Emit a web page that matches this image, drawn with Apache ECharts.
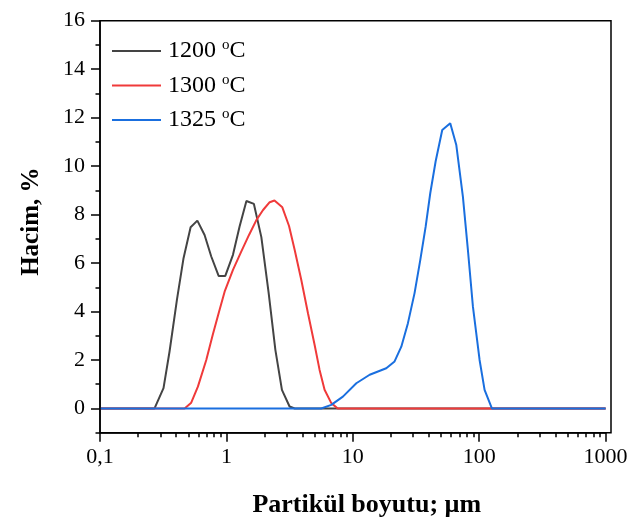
<!DOCTYPE html>
<html>
<head>
<meta charset="utf-8">
<script src="https://cdn.jsdelivr.net/npm/echarts@6/dist/echarts.min.js"></script>
<style>
html,body{margin:0;padding:0;background:#fff;}
#chart{width:635px;height:524px;}
</style>
</head>
<body>
<div id="chart"></div>
<script>
// ---- data ----
var seriesNames = ['1200', '1300', '1325'];

var x1200 = [0.1, 0.27, 0.318, 0.355, 0.406, 0.458, 0.521, 0.589, 0.672, 0.759, 0.868, 0.98, 1.127, 1.27, 1.44, 1.65, 1.89, 2.16, 2.44, 2.75, 3.16, 3.47, 1000];
var y1200 = [0, 0, 0.84, 2.35, 4.48, 6.2, 7.48, 7.75, 7.16, 6.27, 5.47, 5.47, 6.34, 7.5, 8.56, 8.44, 7.07, 4.76, 2.42, 0.77, 0.08, 0, 0];

var x1300 = [0.1, 0.467, 0.527, 0.595, 0.693, 0.78, 0.868, 0.968, 1.127, 1.31, 1.51, 1.73, 1.95, 2.2, 2.4, 2.77, 3.13, 3.47, 3.91, 4.42, 4.99, 5.46, 5.98, 6.76, 7.6, 1000];
var y1300 = [0, 0, 0.24, 0.9, 2.0, 3.04, 3.93, 4.82, 5.72, 6.47, 7.16, 7.78, 8.19, 8.51, 8.58, 8.3, 7.53, 6.54, 5.31, 3.93, 2.62, 1.59, 0.77, 0.22, 0, 0];

var x1325 = [0.1, 5.63, 6.76, 8.35, 10.66, 13.6, 18.4, 21.4, 24.2, 27.3, 30.8, 34.2, 37.7, 41.0, 45.2, 51.0, 59.0, 65.9, 74.3, 81.4, 89.2, 100.7, 110.3, 126, 1000];
var y1325 = [0, 0, 0.15, 0.49, 1.04, 1.39, 1.66, 1.94, 2.55, 3.52, 4.76, 6.13, 7.5, 8.88, 10.19, 11.49, 11.77, 10.87, 8.74, 6.54, 4.2, 2.0, 0.77, 0, 0];

var xMajorTicks = [0.1, 1, 10, 100, 1000];
var xTickLabels = ['0,1', '1', '10', '100', '1000'];
var xMinorTicks = [0.2,0.3,0.4,0.5,0.6,0.7,0.8,0.9, 2,3,4,5,6,7,8,9, 20,30,40,50,60,70,80,90, 200,300,400,500,600,700,800,900];
var yMajorTicks = [0, 2, 4, 6, 8, 10, 12, 14, 16];
var yMinorTicks = [-1, 1, 3, 5, 7, 9, 11, 13, 15];

// ---- build ----
function pairs(xs, ys) { return xs.map(function (x, i) { return [x, ys[i]]; }); }
var colors = ['#444444', '#f03a3a', '#1a6fdf'];
var dataSets = [pairs(x1200, y1200), pairs(x1300, y1300), pairs(x1325, y1325)];

var FONT = 'Liberation Serif';
var chart = echarts.init(document.getElementById('chart'), null, { renderer: 'canvas' });

var series = seriesNames.map(function (n, i) {
  return {
    name: n,
    type: 'line',
    data: dataSets[i],
    symbol: 'none',
    smooth: false,
    lineStyle: { color: colors[i], width: 2 },
    itemStyle: { color: colors[i] },
    z: 2 + i
  };
});

var GL = 100, GT = 20.7, GW = 505.6, GH = 412;

chart.setOption({
  animation: false,
  backgroundColor: '#ffffff',
  grid: { left: GL, top: GT, width: GW, height: GH, containLabel: false },
  legend: {
    orient: 'vertical',
    left: 112,
    top: 38,
    padding: 0,
    icon: 'rect',
    itemWidth: 49,
    itemHeight: 2.2,
    itemGap: 9.5,
    data: seriesNames,
    formatter: function (name) { return '{a|' + name + ' }{s|o}{a|C}'; },
    textStyle: {
      fontFamily: FONT,
      color: '#000',
      padding: [0, 0, 0, 2],
      rich: {
        a: { fontFamily: FONT, fontSize: 24, color: '#000' },
        s: { fontFamily: FONT, fontSize: 15, color: '#000', padding: [0, 0, 11, 0] }
      }
    }
  },
  xAxis: [
    {
      type: 'log',
      logBase: 10,
      min: 0.1,
      max: 1000,
      position: 'bottom',
      name: 'Partikül boyutu; µm',
      nameLocation: 'middle',
      nameGap: 60,
      nameTextStyle: { fontFamily: FONT, fontSize: 26, fontWeight: 'bold', color: '#000', padding: [0, 0, 0, 28] },
      axisLine: { show: true, onZero: false, lineStyle: { color: '#000', width: 1.5 } },
      axisTick: { show: true, inside: false, length: 9, lineStyle: { color: '#000', width: 1.5 }, customValues: xMajorTicks },
      axisLabel: {
        show: true, margin: 14, fontFamily: FONT, fontSize: 22, color: '#000',
        customValues: xMajorTicks,
        formatter: function (v) {
          var r = Number(Number(v).toPrecision(3));
          var idx = xMajorTicks.indexOf(r);
          return idx >= 0 ? xTickLabels[idx] : '';
        }
      },
      splitLine: { show: false },
      minorTick: { show: false }
    },
    {
      type: 'log',
      logBase: 10,
      min: 0.1,
      max: 1000,
      position: 'bottom',
      offset: 0,
      axisLine: { show: false, onZero: false },
      axisTick: { show: true, inside: false, length: 4.5, lineStyle: { color: '#000', width: 1.5 }, customValues: xMinorTicks },
      axisLabel: { show: false },
      splitLine: { show: false }
    }
  ],
  yAxis: [
    {
      type: 'value',
      min: -1,
      max: 16,
      position: 'left',
      name: 'Hacim, %',
      nameLocation: 'middle',
      nameGap: 56,
      nameRotate: 90,
      nameTextStyle: { fontFamily: FONT, fontSize: 25, fontWeight: 'bold', color: '#000', padding: [0, 0, 0, 10] },
      axisLine: { show: true, onZero: false, lineStyle: { color: '#000', width: 1.5 } },
      axisTick: { show: true, inside: false, length: 9, lineStyle: { color: '#000', width: 1.5 }, customValues: yMajorTicks },
      axisLabel: { show: true, margin: 15, fontFamily: FONT, fontSize: 22, color: '#000', customValues: yMajorTicks },
      splitLine: { show: false }
    },
    {
      type: 'value',
      min: -1,
      max: 16,
      position: 'left',
      offset: 0,
      axisLine: { show: false, onZero: false },
      axisTick: { show: true, inside: false, length: 4.5, lineStyle: { color: '#000', width: 1.5 }, customValues: yMinorTicks },
      axisLabel: { show: false },
      splitLine: { show: false }
    }
  ],
  graphic: [
    {
      type: 'rect',
      silent: true,
      z: 10,
      shape: { x: GL, y: GT, width: 511, height: GH },
      style: { fill: 'none', stroke: '#000', lineWidth: 1.5 }
    }
  ],
  series: series
});
</script>
</body>
</html>
